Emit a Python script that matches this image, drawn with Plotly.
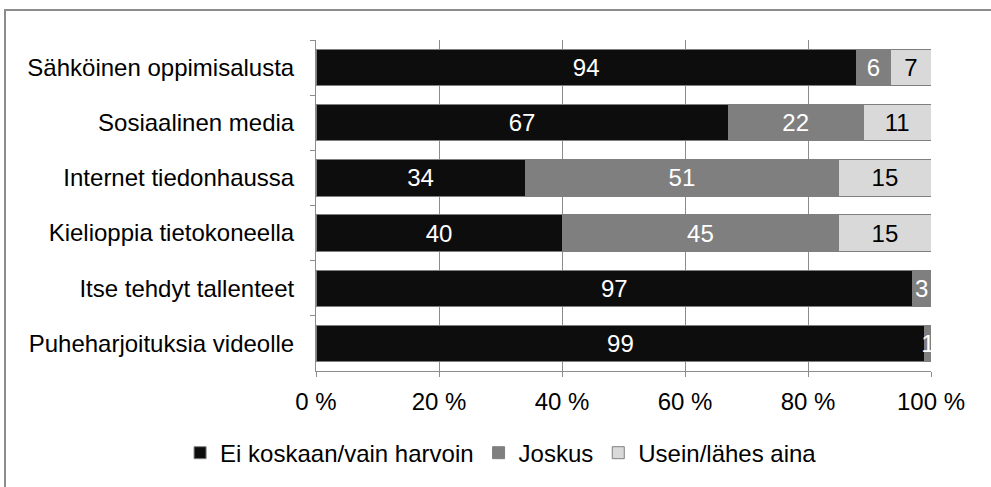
import plotly.graph_objects as go

categories = [
    "Sähköinen oppimisalusta",
    "Sosiaalinen media",
    "Internet tiedonhaussa",
    "Kielioppia tietokoneella",
    "Itse tehdyt tallenteet",
    "Puheharjoituksia videolle",
]
ei_koskaan = [94, 67, 34, 40, 97, 99]
joskus = [6, 22, 51, 45, 3, 1]
usein = [7, 11, 15, 15, None, None]

series = [
    ("Ei koskaan/vain harvoin", ei_koskaan, "#0d0d0d", "white"),
    ("Joskus", joskus, "#7f7f7f", "white"),
    ("Usein/lähes aina", usein, "#d9d9d9", "black"),
]

FONT = "Liberation Sans, Arial, sans-serif"
FS = 24

fig = go.Figure()
for name, vals, color, tcolor in series:
    fig.add_trace(go.Bar(
        y=categories, x=vals, name=name, orientation="h",
        marker=dict(color=color, line=dict(color="#7f7f7f", width=1)),
        text=[("" if v is None else str(v)) for v in vals],
        textposition="inside", insidetextanchor="middle",
        textfont=dict(color=tcolor, size=FS, family=FONT),
        cliponaxis=True,
    ))

fig.update_layout(
    barmode="stack", barnorm="percent", bargap=0.34,
    width=991, height=487,
    margin=dict(l=316, r=60, t=40, b=111),
    paper_bgcolor="white", plot_bgcolor="white",
    font=dict(family=FONT, size=FS, color="black"),
    uniformtext=dict(minsize=FS, mode="show"),
    legend=dict(
        orientation="h", x=-0.221, y=-0.248, xanchor="left", yanchor="middle",
        font=dict(size=FS), itemwidth=30, traceorder="normal",
    ),
    shapes=[dict(
        type="rect", xref="paper", yref="paper",
        x0=-0.5057, x1=1.2, y0=-0.4, y1=1.0908,
        line=dict(color="#8c8c8c", width=2), fillcolor="rgba(0,0,0,0)",
        layer="below",
    )],
)

fig.update_xaxes(
    range=[0, 100], dtick=20, ticksuffix=" %",
    showgrid=True, gridcolor="#8c8c8c", gridwidth=1,
    showline=True, linecolor="#8c8c8c", linewidth=1,
    ticks="outside", ticklen=5, tickcolor="#8c8c8c",
    ticklabelstandoff=4, zeroline=False,
)
fig.update_yaxes(
    autorange="reversed", showline=True, linecolor="#8c8c8c", linewidth=1,
    ticks="outside", ticklen=5, tickcolor="#8c8c8c", tickson="boundaries",
    ticklabelstandoff=16,
)

fig.write_html("out.html", config={"displayModeBar": False},
               post_script="document.body.style.margin='0';")
